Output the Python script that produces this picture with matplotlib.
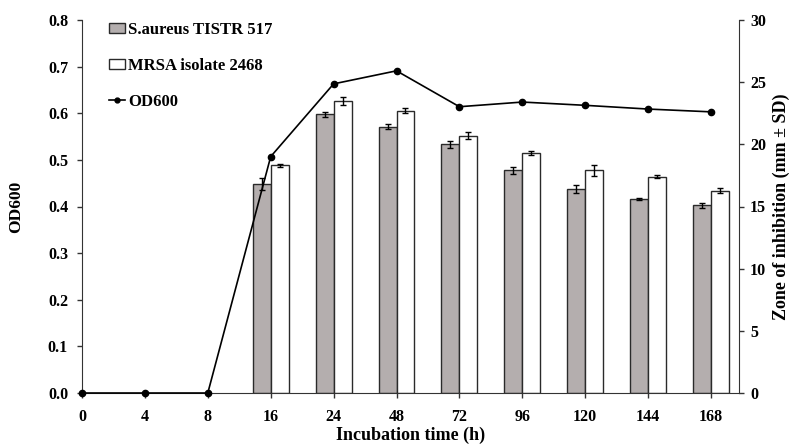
import matplotlib
matplotlib.use("Agg")
import matplotlib.pyplot as plt
import numpy as np
from matplotlib.patches import Patch
from matplotlib.lines import Line2D

plt.rcParams['font.family'] = ['Liberation Serif', 'DejaVu Serif']
plt.rcParams['font.weight'] = 'bold'

time_labels = ['0', '4', '8', '16', '24', '48', '72', '96', '120', '144', '168']
od600 = [0.0, 0.0, 0.0, 0.507, 0.663, 0.691, 0.614, 0.624, 0.617, 0.609, 0.603]

bar_labels = ['16', '24', '48', '72', '96', '120', '144', '168']
sa_zone = [16.8, 22.4, 21.4, 20.0, 17.9, 16.4, 15.6, 15.1]
sa_sd = [0.5, 0.2, 0.2, 0.3, 0.3, 0.3, 0.05, 0.2]
mrsa_zone = [18.3, 23.5, 22.7, 20.7, 19.3, 17.9, 17.4, 16.25]
mrsa_sd = [0.1, 0.3, 0.2, 0.3, 0.15, 0.45, 0.1, 0.2]

fig = plt.figure(figsize=(7.89, 4.46), dpi=100)
ax1 = fig.add_axes([82/789, 53/446, (739-82)/789, (393-20)/446])
ax2 = ax1.twinx()
ax1.set_zorder(ax2.get_zorder() + 1)
ax1.patch.set_visible(False)

x = np.arange(len(time_labels))
bx = np.array([time_labels.index(b) for b in bar_labels])
w = 0.286
gray = '#b4aeae'
edge = '#2a2a2a'
ax2.bar(bx - w/2, sa_zone, w, color=gray, edgecolor=edge, linewidth=1.0, zorder=2)
ax2.bar(bx + w/2, mrsa_zone, w, color='white', edgecolor=edge, linewidth=1.0, zorder=2)
ax2.errorbar(bx - w/2, sa_zone, yerr=sa_sd, fmt='none', ecolor='black', elinewidth=1.0, capsize=2, capthick=1.0, zorder=3)
ax2.errorbar(bx + w/2, mrsa_zone, yerr=mrsa_sd, fmt='none', ecolor='black', elinewidth=1.0, capsize=2, capthick=1.0, zorder=3)

ax1.plot(x, od600, color='black', linewidth=1.2, marker='o', markersize=4.5, clip_on=False, zorder=5)

ax1.set_xlim(0, 10.445)
ax1.set_ylim(0, 0.8)
ax2.set_ylim(0, 30)
ax1.set_xticks(x)
ax1.set_xticklabels(time_labels)
ax1.set_yticks(np.arange(0, 0.81, 0.1))
ax1.set_yticklabels([f'{v:.1f}' for v in np.arange(0, 0.81, 0.1)])
ax2.set_yticks(np.arange(0, 31, 5))

for ax in (ax1, ax2):
    ax.spines['top'].set_visible(False)
    ax.tick_params(labelsize=11.5, width=1, length=3.5, color='#333333')
ax1.tick_params(axis='x', pad=8)
ax1.tick_params(axis='y', pad=6.5)
ax2.tick_params(axis='y', pad=4.5)
ax1.spines['left'].set_color('#333333')
ax1.spines['bottom'].set_color('#333333')
ax2.spines['right'].set_color('#333333')
ax1.spines['right'].set_visible(False)
ax2.spines['left'].set_visible(False)
ax2.spines['bottom'].set_visible(False)

ax1.set_ylabel('OD600', fontsize=12.5, fontweight='bold')
ax1.yaxis.set_label_coords(-(82-24)/657, 0.5)
ax2.set_ylabel('Zone of inhibition (mm ± SD)', fontsize=13, fontweight='bold')
ax2.yaxis.set_label_coords((773-82)/657, 0.5)
ax1.set_xlabel('Incubation time (h)', fontsize=13, fontweight='bold')
ax1.xaxis.set_label_coords(0.5, -(427-393)/373)

handles = [Patch(facecolor=gray, edgecolor=edge, linewidth=1.0),
           Patch(facecolor='white', edgecolor=edge, linewidth=1.0),
           Line2D([], [], color='black', marker='o', markersize=3.5, linewidth=1.2)]
labels = ['S.aureus TISTR 517', 'MRSA isolate 2468', 'OD600']
fig.legend(handles, labels, loc='upper left', bbox_to_anchor=(102/789, 1 - 15/446),
           frameon=False, fontsize=12, handlelength=1.0, handleheight=0.5,
           handletextpad=0.15, labelspacing=1.2, borderaxespad=0)

fig.savefig('out.png', dpi=100)
